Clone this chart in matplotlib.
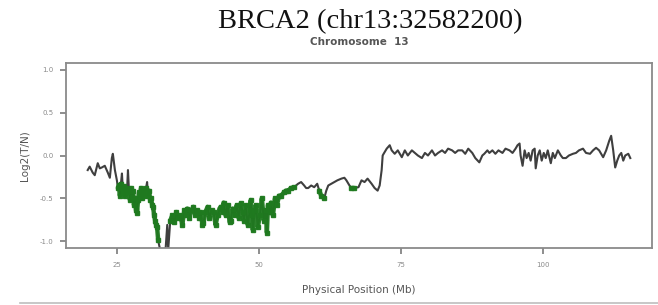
import numpy as np
import matplotlib
matplotlib.use("Agg")
import matplotlib.pyplot as plt
from matplotlib.lines import Line2D

# ---- data ----
pos_mb = [
    19.86, 20.21, 20.74, 21.10, 21.63, 21.99, 22.34, 22.87, 23.40, 23.76, 24.11, 24.29, 24.65, 25.00,
    25.18, 25.35, 25.53, 25.71, 25.89, 26.06, 26.24, 26.42, 26.60, 26.77, 26.95, 27.13, 27.30, 27.48,
    27.66, 27.84, 28.01, 28.19, 28.37, 28.55, 28.72, 28.90, 29.08, 29.26, 29.43, 29.61, 29.79, 29.96,
    30.14, 30.32, 30.50, 30.67, 30.85,
    31.03, 31.21, 31.38, 31.56, 31.74, 31.91, 32.09, 32.27, 32.45, 32.62, 32.98, 33.51, 33.87, 34.04, 34.40,
    34.75, 35.11, 35.46, 35.82, 36.17, 36.52, 36.88, 37.23, 37.41, 37.77, 38.12, 38.47, 38.83, 39.18,
    39.54, 39.72, 40.07, 40.25, 40.60, 40.96, 41.31, 41.67, 42.02, 42.38, 42.73, 43.08, 43.26, 43.62,
    43.79, 44.15, 44.50, 44.86, 45.03, 45.39, 45.74, 46.10, 46.45, 46.81, 47.16, 47.34, 47.69, 48.05,
    48.40, 48.58, 48.76, 48.94, 49.29, 49.47, 49.82, 50.18, 50.53, 50.89, 51.24, 51.42, 51.60, 51.95,
    52.13, 52.48, 52.84, 53.19, 53.55, 53.90, 54.43, 54.79, 55.14, 55.67, 56.20,
    56.56, 56.91, 57.45, 57.98, 58.33, 58.69, 59.22, 59.75, 60.28, 60.64, 60.99, 61.52, 61.88, 62.23,
    62.76, 63.30, 63.83, 64.54, 65.07, 65.42, 65.96, 66.31, 66.84, 67.55, 68.08, 68.62, 69.15, 69.86,
    70.39, 70.92, 71.28, 71.63, 71.81, 71.98, 72.52, 73.05, 73.40, 73.93,
    74.47, 75.18, 75.71, 76.24, 76.95, 77.48, 78.01, 78.72, 79.25, 79.79, 80.49, 81.03, 81.56, 82.27,
    82.80, 83.33, 84.04, 84.57, 85.10, 85.81, 86.35, 86.88, 87.59, 88.12, 88.83, 89.36, 89.71, 90.25,
    90.60, 91.13, 91.66, 92.20, 92.91, 93.44, 94.15, 94.68, 95.21, 95.56, 95.92, 96.10, 96.45, 96.81,
    97.16, 97.52, 97.87, 98.22, 98.58, 98.76, 99.11, 99.47, 99.82, 100.18, 100.53, 100.88, 101.42,
    101.77, 102.13, 102.66, 103.19, 103.54, 104.08, 104.61, 105.32, 105.85, 106.38, 107.09, 107.62,
    108.33, 108.86, 109.39, 109.93, 110.64, 111.17, 111.70, 112.05, 112.41, 112.76, 113.12, 113.47,
    113.83, 114.18, 114.53, 115.07, 115.42,
]
log2_ratio = [
    -0.17, -0.13, -0.20, -0.23, -0.09, -0.15, -0.14, -0.12, -0.20, -0.26, -0.03, 0.02, -0.17, -0.29,
    -0.38, -0.35, -0.47, -0.33, -0.21, -0.41, -0.36, -0.47, -0.38, -0.43, -0.17, -0.41, -0.52, -0.38,
    -0.48, -0.41, -0.58, -0.50, -0.64, -0.67, -0.52, -0.43, -0.47, -0.38, -0.50, -0.41, -0.47, -0.43,
    -0.38, -0.31, -0.47, -0.41, -0.52,
    -0.50, -0.58, -0.60, -0.70, -0.76, -0.81, -0.84, -0.99, -1.05, -1.10, -1.16, -1.16, -0.81, -1.10, -0.76,
    -0.70, -0.78, -0.66, -0.73, -0.70, -0.81, -0.64, -0.70, -0.62, -0.73, -0.64, -0.60, -0.70, -0.64,
    -0.73, -0.66, -0.81, -0.79, -0.66, -0.60, -0.73, -0.64, -0.66, -0.81, -0.70, -0.62, -0.60, -0.66,
    -0.55, -0.70, -0.58, -0.78, -0.76, -0.62, -0.70, -0.58, -0.73, -0.56, -0.66, -0.76, -0.58, -0.81,
    -0.64, -0.52, -0.70, -0.87, -0.64, -0.58, -0.84, -0.70, -0.50, -0.76, -0.64, -0.90, -0.58, -0.66,
    -0.55, -0.70, -0.50, -0.58, -0.47, -0.47, -0.43, -0.41, -0.41, -0.38, -0.37,
    -0.35, -0.33, -0.31, -0.35, -0.38, -0.38, -0.35, -0.37, -0.33, -0.41, -0.47, -0.50, -0.41, -0.35,
    -0.33, -0.31, -0.29, -0.27, -0.26, -0.29, -0.35, -0.38, -0.38, -0.37, -0.29, -0.31, -0.27, -0.33,
    -0.38, -0.41, -0.35, -0.17, 0.00, 0.02, 0.08, 0.12, 0.06, 0.02,
    0.06, -0.02, 0.06, 0.00, 0.06, 0.03, 0.00, -0.03, 0.03, 0.00, 0.06, 0.00, 0.03, 0.06,
    0.03, 0.08, 0.06, 0.03, 0.06, 0.06, 0.02, 0.08, 0.03, -0.03, -0.08, 0.00, 0.02, 0.06,
    0.03, 0.06, 0.02, 0.06, 0.03, 0.08, 0.06, 0.03, 0.08, 0.12, 0.14, 0.00, -0.12, 0.06,
    -0.03, 0.03, -0.06, 0.06, 0.08, -0.15, 0.00, 0.06, -0.06, 0.03, -0.03, 0.06, -0.09,
    0.03, -0.03, 0.06, 0.00, -0.03, -0.03, 0.00, 0.02, 0.03, 0.06, 0.08, 0.03,
    0.02, 0.06, 0.09, 0.06, -0.02, 0.06, 0.17, 0.23, 0.06, -0.14, -0.06, 0.00,
    0.03, -0.06, 0.00, 0.02, -0.03,
]
# 1 = called loss (drawn green), 0 = not called
loss_call = (
    [0] * 14
    + [1, 1, 1, 1, 0, 1, 1, 1, 1, 1, 0, 1, 1, 1, 1, 1, 1, 1, 1, 1, 1, 1, 1, 1, 1, 1, 1, 1, 1, 0, 1, 1, 1]
    + [1, 1, 1, 1, 1, 1, 1, 1, 0, 0, 0, 0, 0, 0, 1]
    + [1] * 67
    + [0, 0, 0, 0, 0, 0, 0, 0, 0, 1, 1, 1, 0, 0, 0, 0, 0, 0, 0, 0, 0, 1, 1, 0, 0, 0, 0, 0, 0, 0, 0, 0, 0, 0, 0, 0, 0, 0]
    + [0] * 89
)

x_ticks = [25, 50, 75, 100]
y_ticks = [-1.0, -0.5, 0.0, 0.5, 1.0]
y_tick_labels = ["-1.0", "-0.5", "0.0", "0.5", "1.0"]

pos = np.array(pos_mb)
val = np.array(log2_ratio)
called = np.zeros(len(pos), dtype=bool)
called[:min(len(pos), len(loss_call))] = np.array(loss_call[:len(pos)], dtype=bool)

# ---- figure ----
fig = plt.figure(figsize=(6.58, 3.05), dpi=100)
fig.patch.set_facecolor("white")
ax = fig.add_axes([66 / 658, 1 - 248 / 305, (652 - 66) / 658, (248 - 63) / 305])

ax.plot(pos, val, color="#2a2a2a", lw=1.5, alpha=0.9, zorder=2)
gval = np.where(called, val, np.nan)
ax.plot(pos, gval, color="#1f7a1f", lw=3.2, alpha=0.95, zorder=3,
        marker="s", ms=3, mec="#1f7a1f", solid_capstyle="round")

lo, hi = pos.min(), pos.max()
span = hi - lo
ax.set_xlim(lo - 0.04 * span, hi + 0.04 * span)
ax.set_ylim(-1.08, 1.08)

ax.set_xticks(x_ticks)
ax.set_xticklabels([str(t) for t in x_ticks])
ax.set_yticks(y_ticks)
ax.set_yticklabels(y_tick_labels)

grey = "#6f6f6f"
for s in ax.spines.values():
    s.set_color("#8a8a8a")
    s.set_linewidth(1.3)
ax.tick_params(axis="both", colors=grey, labelcolor="#8a8a8a", labelsize=5,
               length=4, width=1.1, direction="out")
ax.tick_params(axis="x", pad=6)
ax.tick_params(axis="y", pad=5)

ax.set_xlabel("Physical Position (Mb)", fontsize=7.5, color="#555555", labelpad=12)
ax.set_ylabel("Log2(T/N)", fontsize=7.5, color="#555555", labelpad=7)

fig.text(359 / 658, 1 - 42 / 305, "Chromosome  13", ha="center", va="center",
         fontsize=7.5, fontweight="bold", color="#555555")
fig.text(370 / 658, 1 - 22 / 305, "BRCA2 (chr13:32582200)", ha="center", va="center",
         fontsize=20.5, color="#111111", family=["Liberation Serif", "DejaVu Serif"])

fig.add_artist(Line2D([20 / 658, 1.0], [1 - 303 / 305, 1 - 303 / 305],
                      transform=fig.transFigure, color="#bdbdbd", lw=1.2))

fig.savefig("out.png", dpi=100, facecolor="white")
